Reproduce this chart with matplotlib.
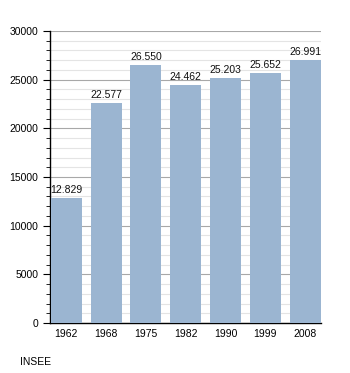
import matplotlib
matplotlib.use('Agg')
import matplotlib.pyplot as plt
from matplotlib.ticker import MultipleLocator

plt.rcParams['font.family'] = ['Liberation Sans', 'DejaVu Sans']

years = ['1962', '1968', '1975', '1982', '1990', '1999', '2008']
population = [12829, 22577, 26550, 24462, 25203, 25652, 26991]
labels = ['12.829', '22.577', '26.550', '24.462', '25.203', '25.652', '26.991']

fig = plt.figure(figsize=(3.5, 3.73), dpi=100)
ax = fig.add_axes([50 / 350, 1 - 323 / 373, 271 / 350, 292 / 373])

x = range(len(years))
ax.bar(x, population, width=0.775, color='#9bb5d1', zorder=3)
for xi, v, lab in zip(x, population, labels):
    ax.text(xi, v + 300, lab, ha='center', va='bottom', fontsize=7.5, color='#111111')

ax.set_xlim(-0.41, 6.4)
ax.set_ylim(0, 30000)
ax.set_xticks(list(x))
ax.set_xticklabels(years, fontsize=7.5)
ax.yaxis.set_major_locator(MultipleLocator(5000))
ax.yaxis.set_minor_locator(MultipleLocator(1000))
ax.tick_params(axis='y', which='major', length=5, labelsize=7.5)
ax.tick_params(axis='y', which='minor', length=3)
ax.tick_params(axis='x', length=0, labelsize=7.5, pad=4)
ax.grid(axis='y', which='major', color='#a8a8a8', linewidth=0.8, zorder=0)
ax.grid(axis='y', which='minor', color='#e4e4e4', linewidth=0.8, zorder=0)
for s in ['top', 'right']:
    ax.spines[s].set_visible(False)
ax.spines['left'].set_linewidth(1)
ax.spines['bottom'].set_linewidth(1)

fig.text(20 / 350, 1 - 362 / 373, 'INSEE', fontsize=7.5, va='center')

fig.savefig('out.png', dpi=100)
